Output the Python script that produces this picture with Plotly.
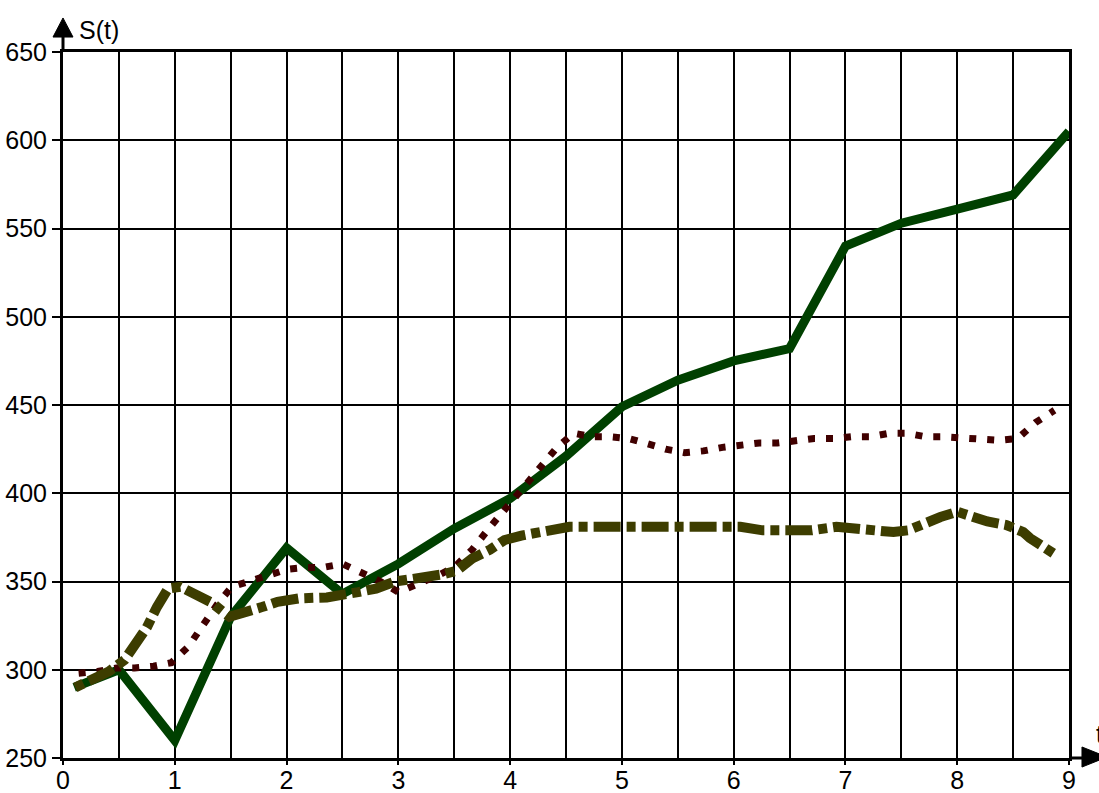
import plotly.graph_objects as go

# ---- data ----
t_green = [0.1, 0.5, 1.0, 1.5, 2.0, 2.5, 3.0, 3.5, 4.0, 4.5, 5.0, 5.5, 6.0, 6.5, 7.0, 7.5, 8.0, 8.5, 9.0]
s_green = [290, 300, 260, 330, 369, 343, 360, 380, 397, 421, 449, 464, 475, 482, 540, 553, 561, 569, 605]

t_red = [0.14, 0.31, 0.48, 0.64, 0.81, 0.97, 1.12, 1.25, 1.38, 1.51, 1.67, 1.84, 2.01, 2.17, 2.33, 2.5,
         2.67, 2.84, 3.0, 3.17, 3.34, 3.5, 3.66, 3.81, 3.97, 4.11, 4.26, 4.42, 4.57, 4.73, 4.9, 5.06,
         5.23, 5.39, 5.56, 5.73, 5.9, 6.06, 6.23, 6.39, 6.56, 6.72, 6.89, 7.05, 7.22, 7.39, 7.55, 7.72,
         7.88, 8.05, 8.21, 8.37, 8.54, 8.7, 8.87]
s_red = [298, 299, 301, 301, 302, 304, 313, 325, 337, 347, 350, 354, 357, 358, 358, 360,
         355, 350, 344, 348, 353, 358, 368, 380, 392, 403, 415, 426, 434, 432, 432, 431,
         428, 425, 423, 424, 426, 427, 428.5, 428.5, 430, 431, 431, 432, 432, 434, 434, 432,
         432, 431, 431, 430, 431, 440, 447]

t_olive = [0.11, 0.27, 0.41, 0.55, 0.66, 0.75, 0.84, 0.94, 1.05, 1.21, 1.33, 1.49, 1.66, 1.78, 1.92,
           2.12, 2.36, 2.52, 2.64, 2.8, 2.97, 3.08, 3.22, 3.39, 3.52, 3.66, 3.82, 3.95, 4.1, 4.27,
           4.38, 4.53, 4.74, 4.96, 5.16, 5.28, 5.4, 5.62, 5.83, 6.06, 6.26, 6.48, 6.7, 6.92, 7.1,
           7.33, 7.43, 7.56, 7.71, 7.85, 8.0, 8.14, 8.27, 8.44, 8.59, 8.65, 8.74, 8.86]
s_olive = [290, 295, 299, 305.5, 316, 324, 335.5, 346, 347, 342, 338, 330, 334, 335.5, 338.5,
           340.5, 341, 342, 344, 346, 350, 351, 352, 354, 356, 363, 368, 373.5, 376, 378,
           379, 381, 381, 381, 381, 382, 382, 382, 381, 381, 379, 379, 379, 381, 380,
           379, 378, 379, 383.5, 386.5, 389.5, 386.5, 384, 382, 378, 374.6, 371, 366]

x_ticks = list(range(0, 10))
y_ticks = [250, 300, 350, 400, 450, 500, 550, 600, 650]

FONT = "Liberation Sans, Arial, sans-serif"

fig = go.Figure()
fig.add_trace(go.Scatter(x=t_green, y=s_green, mode="lines",
                         line=dict(color="#004000", width=9), hoverinfo="skip"))
fig.add_trace(go.Scatter(x=t_red, y=s_red, mode="lines",
                         line=dict(color="#400000", width=7, dash="7px,11px"), hoverinfo="skip"))
fig.add_trace(go.Scatter(x=t_olive, y=s_olive, mode="lines",
                         line=dict(color="#3d3d00", width=10, dash="9px,6px,27px,6px"), hoverinfo="skip"))

fig.update_layout(
    width=1099, height=793,
    margin=dict(l=63, r=30, t=52, b=35, autoexpand=False),
    paper_bgcolor="white", plot_bgcolor="white",
    showlegend=False,
    font=dict(family=FONT, size=25, color="black"),
)
fig.update_xaxes(
    range=[0, 9], tickvals=x_ticks, ticktext=[str(v) for v in x_ticks],
    automargin=False,
    showgrid=True, gridcolor="black", gridwidth=2,
    minor=dict(dtick=0.5, tick0=0, showgrid=True, gridcolor="black", gridwidth=2),
    zeroline=False, showline=True, linecolor="black", linewidth=3, mirror=True,
    ticks="outside", ticklen=4, tickwidth=2, tickcolor="black",
    tickfont=dict(family=FONT, size=25, color="black"),
    ticklabelstandoff=-6,
)
fig.update_yaxes(
    range=[250, 650], tickvals=y_ticks, ticktext=[str(v) for v in y_ticks],
    automargin=False,
    showgrid=True, gridcolor="black", gridwidth=2,
    zeroline=False, showline=True, linecolor="black", linewidth=3, mirror=True,
    ticks="outside", ticklen=8, tickwidth=2, tickcolor="black",
    tickfont=dict(family=FONT, size=25, color="black"),
    ticklabelstandoff=0,
)

# axis extensions and arrows (paper coordinates)
fig.add_shape(type="line", xref="paper", yref="paper", x0=0, y0=1, x1=0, y1=1.022,
              line=dict(color="black", width=3))
fig.add_shape(type="path", xref="paper", yref="paper",
              path="M 0 1.0482 L -0.00994 1.0212 L 0.00994 1.0212 Z",
              fillcolor="black", line=dict(color="black", width=1))
fig.add_shape(type="line", xref="paper", yref="paper", x0=1, y0=0, x1=1.014, y1=0,
              line=dict(color="black", width=3))
fig.add_shape(type="path", xref="paper", yref="paper",
              path="M 1.0378 0.0014 L 1.0129 0.0156 L 1.0129 -0.0128 Z",
              fillcolor="black", line=dict(color="black", width=1))

fig.add_annotation(xref="paper", yref="paper", x=0.0139, y=1.031, text="S(t)",
                   showarrow=False, xanchor="left", yanchor="middle",
                   font=dict(family=FONT, size=25, color="black"))
fig.add_annotation(xref="paper", yref="paper", x=1.0249, y=0.034, text="t",
                   showarrow=False, xanchor="left", yanchor="middle",
                   font=dict(family=FONT, size=25, color="black"))

fig.write_html("out.html", config={"displayModeBar": False},
               post_script="document.body.style.margin='0';document.body.style.overflow='hidden';")
